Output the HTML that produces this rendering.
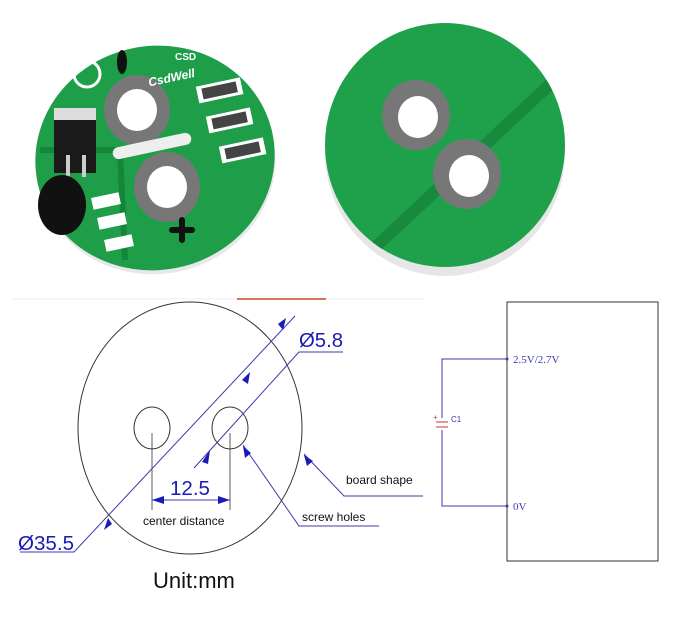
<!DOCTYPE html>
<html><head><style>body{margin:0;background:#fff}svg{display:block}</style></head><body>
<svg width="700" height="625" viewBox="0 0 700 625" xmlns="http://www.w3.org/2000/svg" font-family="Liberation Sans, sans-serif">
<defs><clipPath id="rb"><ellipse cx="445" cy="145" rx="120" ry="122"/></clipPath></defs>
<rect width="700" height="625" fill="#fff"/>
<!-- left board -->
<g transform="rotate(-12 155 158)">
<ellipse cx="155" cy="162" rx="120" ry="112" fill="#e8e8e8"/>
<ellipse cx="155" cy="158" rx="120" ry="112" fill="#1f9e4a"/>
</g>
<path d="M40 150 L120 150 L125 260" stroke="#15853b" stroke-width="6" fill="none"/>
<rect x="54" y="108" width="42" height="65" fill="#1a1a1a"/>
<rect x="54" y="108" width="42" height="12" fill="#ddd"/>
<rect x="66" y="155" width="4" height="22" fill="#ccc"/><rect x="82" y="155" width="4" height="22" fill="#ccc"/>
<ellipse cx="62" cy="205" rx="24" ry="30" fill="#111"/>
<ellipse cx="137" cy="110" rx="33" ry="35" fill="#777"/>
<ellipse cx="137" cy="110" rx="20" ry="21" fill="#fff"/>
<ellipse cx="167" cy="187" rx="33" ry="35" fill="#777"/>
<ellipse cx="167" cy="187" rx="20" ry="21" fill="#fff"/>
<rect x="112" y="140" width="80" height="12" rx="6" fill="#eee" transform="rotate(-12 152 146)"/>
<rect x="197" y="82" width="45" height="17" fill="#fff" transform="rotate(-12 219 90)"/>
<rect x="202" y="85" width="35" height="11" fill="#444" transform="rotate(-12 219 90)"/>
<rect x="207" y="112" width="45" height="17" fill="#fff" transform="rotate(-12 229 120)"/>
<rect x="212" y="115" width="35" height="11" fill="#444" transform="rotate(-12 229 120)"/>
<rect x="220" y="142" width="45" height="17" fill="#fff" transform="rotate(-12 242 150)"/>
<rect x="225" y="145" width="35" height="11" fill="#444" transform="rotate(-12 242 150)"/>
<rect x="92" y="195" width="28" height="12" fill="#fff" transform="rotate(-12 106 201)"/>
<rect x="98" y="215" width="28" height="12" fill="#fff" transform="rotate(-12 112 221)"/>
<rect x="105" y="237" width="28" height="12" fill="#fff" transform="rotate(-12 119 243)"/>
<ellipse cx="122" cy="62" rx="5" ry="12" fill="#111"/>
<path d="M172 230h20M182 220v20" stroke="#111" stroke-width="6" stroke-linecap="round"/>
<circle cx="87" cy="74" r="13" fill="none" stroke="#fff" stroke-width="3"/>
<text x="148" y="82" font-size="12" font-weight="bold" fill="#fff" font-style="italic" transform="rotate(-12 170 78)">CsdWell</text>
<text x="175" y="60" font-size="10" font-weight="bold" fill="#fff">CSD</text>
<!-- right board -->
<ellipse cx="445" cy="152" rx="120" ry="124" fill="#e6e6e6"/>
<ellipse cx="445" cy="145" rx="120" ry="122" fill="#1fa14c"/>
<path d="M340 280 L560 75" stroke="#178a3e" stroke-width="12" clip-path="url(#rb)"/>
<ellipse cx="416" cy="115" rx="34" ry="35" fill="#777"/>
<ellipse cx="418" cy="117" rx="20" ry="21" fill="#fff"/>
<ellipse cx="467" cy="174" rx="34" ry="35" fill="#777"/>
<ellipse cx="469" cy="176" rx="20" ry="21" fill="#fff"/>
<!-- drawing -->
<line x1="13" y1="299" x2="425" y2="299" stroke="#eee"/>
<line x1="237" y1="299" x2="326" y2="299" stroke="#c9471e" stroke-width="1.5"/>
<ellipse cx="190" cy="428" rx="112" ry="126" fill="none" stroke="#333"/>
<ellipse cx="152" cy="428" rx="18" ry="21" fill="none" stroke="#333"/>
<ellipse cx="230" cy="428" rx="18" ry="21" fill="none" stroke="#333"/>
<g stroke="#333" fill="none" stroke-width="0.8">
<line x1="152" y1="433" x2="152" y2="510"/><line x1="230" y1="433" x2="230" y2="510"/>
</g>
<g stroke="#3b3bb0" fill="none" stroke-width="1">
<polyline points="295,316 74,552 20,552"/>
<polyline points="194,468 299,352 343,352"/>
<polyline points="243,445 299,526 379,526"/>
<polyline points="304,454 344,496 423,496"/>
<line x1="152" y1="500" x2="230" y2="500"/>
</g>
<g fill="#1a1ab8">
<path d="M108 518 l-4 12 l8 -6z"/>
<path d="M283 330 l3 -12 l-8 6z"/>
<path d="M250 372 l-2 12 l-6 -4z"/>
<path d="M210 450 l-8 12 l6 2z"/>
<path d="M243 446 l2 12 l6 -5z"/>
<path d="M304 455 l3 11 l6 -5z"/>
<path d="M152 500 l12 -4 v8z"/><path d="M230 500 l-12 -4 v8z"/>
</g>
<g fill="#1a1ab8" font-size="20">
<text x="18" y="550" textLength="56" lengthAdjust="spacingAndGlyphs">Ø35.5</text>
<text x="299" y="347" textLength="44" lengthAdjust="spacingAndGlyphs">Ø5.8</text>
<text x="170" y="495" textLength="40" lengthAdjust="spacingAndGlyphs">12.5</text>
</g>
<text x="143" y="525" font-size="12" fill="#111">center distance</text>
<text x="302" y="521" font-size="12" fill="#111">screw  holes</text>
<text x="346" y="484" font-size="12" fill="#111">board shape</text>
<text x="153" y="588" font-size="22" fill="#111">Unit:mm</text>
<!-- schematic -->
<rect x="507" y="302" width="151" height="259" fill="none" stroke="#333"/>
<g stroke="#3b3bb0" fill="none">
<polyline points="507,359 442,359 442,418"/>
<polyline points="442,430 442,506 507,506"/>
</g>
<g stroke="#c33" stroke-width="1"><line x1="436" y1="422" x2="448" y2="422"/><line x1="436" y1="427" x2="448" y2="427"/></g>
<text x="433" y="420" font-size="8" fill="#c33">+</text>
<text x="451" y="422" font-size="8" fill="#3b3bb0">C1</text>
<circle cx="507" cy="359" r="1.5" fill="#3b3bb0"/><circle cx="507" cy="506" r="1.5" fill="#3b3bb0"/>
<text x="513" y="363" font-size="11" fill="#3b3bb0" font-family="Liberation Serif, serif">2.5V/2.7V</text>
<text x="513" y="510" font-size="11" fill="#3b3bb0" font-family="Liberation Serif, serif">0V</text>
</svg>
</body></html>
